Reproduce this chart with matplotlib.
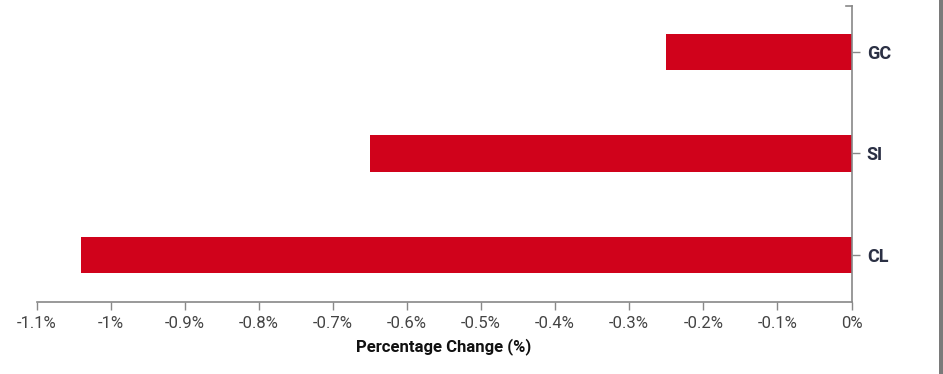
import matplotlib.pyplot as plt
from matplotlib.patches import Rectangle
from matplotlib.ticker import FuncFormatter

# data
symbols = ["CL", "SI", "GC"]
pct_change = [-1.04, -0.65, -0.25]
x_ticks = [-1.1, -1.0, -0.9, -0.8, -0.7, -0.6, -0.5, -0.4, -0.3, -0.2, -0.1, 0.0]

plt.rcParams['font.family'] = ['Roboto', 'DejaVu Sans']

W, H = 943, 374
fig = plt.figure(figsize=(W / 100, H / 100), dpi=100)
ax = fig.add_axes([36.5 / W, (H - 302) / H, (851.5 - 36.5) / W, (302 - 6) / H])

ypos = list(range(len(symbols)))
ax.barh(ypos, pct_change, height=0.355, color='#d0021b')

ax.set_xlim(-1.1, 0)
ax.set_ylim(-0.463, 2.453)
ax.set_xticks(x_ticks)
ax.xaxis.set_major_formatter(FuncFormatter(lambda v, p: f"{round(v, 1):g}%".replace("-0%", "0%")))
ax.set_yticks(ypos)
ax.set_yticklabels(symbols)

ax.yaxis.tick_right()
for s in ['top', 'left']:
    ax.spines[s].set_visible(False)
for s in ['bottom', 'right']:
    ax.spines[s].set_color('#888888')
    ax.spines[s].set_linewidth(1.2)

ax.tick_params(axis='x', length=6, width=1, color='#888888', labelsize=12,
               labelcolor='#444444', pad=4)
ax.tick_params(axis='y', length=6, width=1, color='#888888', labelsize=13,
               labelcolor='#2b3044', pad=5)
for lbl in ax.get_yticklabels():
    lbl.set_fontweight('bold')

# little outer tick at top of right axis
ax.plot([-0.008, 0], [2.453, 2.453], color='#888888', lw=1.2, clip_on=False)

ax.set_xlabel("Percentage Change (%)", fontsize=12, fontweight='bold',
              color='#111111', labelpad=5)

# gray border at the right edge
fig.add_artist(Rectangle((939 / W, 0), 4 / W, 1, transform=fig.transFigure,
                         color='#7a7a7a', lw=0))

fig.savefig("out.png", dpi=100)
